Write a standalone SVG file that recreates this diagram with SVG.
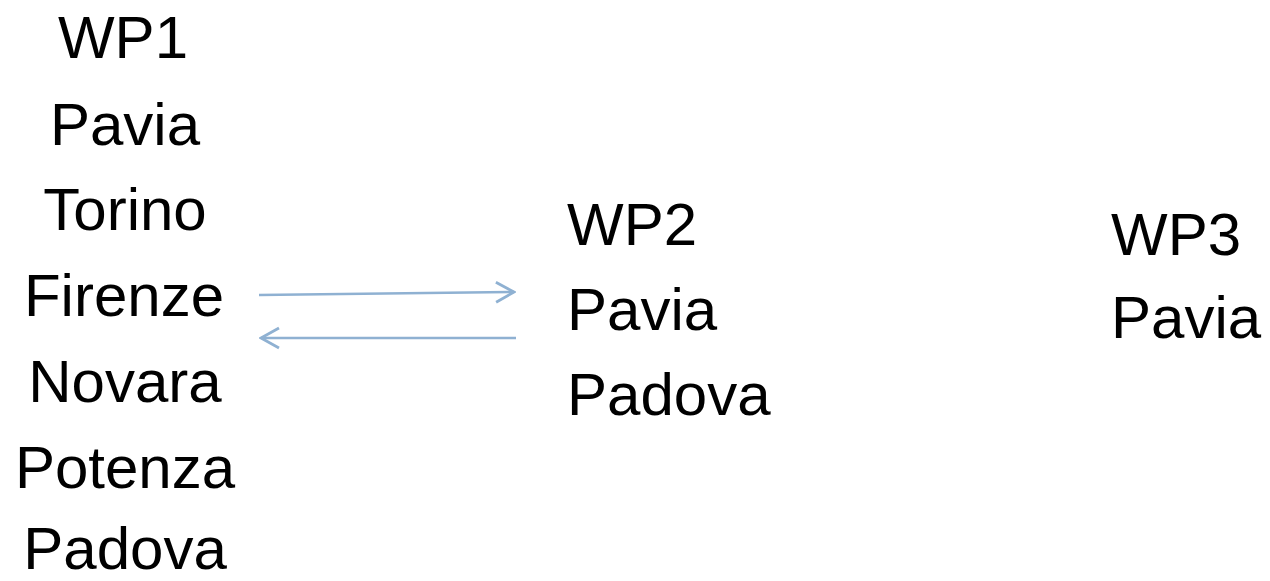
<svg xmlns="http://www.w3.org/2000/svg" width="1270" height="581" viewBox="0 0 1270 581">
<style>
text{font-family:"Liberation Sans",Arial,sans-serif;font-size:60px;fill:#000}
.c{text-anchor:middle}
.ln{stroke:#8FB1D2;stroke-width:2.6;fill:none}
</style>
<defs>
<marker id="ah" viewBox="0 0 22 24" refX="20" refY="12" markerWidth="22" markerHeight="24" markerUnits="userSpaceOnUse" orient="auto">
<path d="M2,2 L20,12 L2,22" fill="none" stroke="#8FB1D2" stroke-width="2.8"/>
</marker>
</defs>
<rect width="1270" height="581" fill="#fff"/>
<g id="wp1">
<text class="c" x="123" y="58">WP1</text>
<text class="c" x="125" y="145">Pavia</text>
<text class="c" x="125" y="230">Torino</text>
<text class="c" x="124" y="316">Firenze</text>
<text class="c" x="125" y="402">Novara</text>
<text class="c" x="125" y="488">Potenza</text>
<text class="c" x="125" y="569">Padova</text>
</g>
<g id="wp2">
<text x="567" y="245">WP2</text>
<text x="567" y="330">Pavia</text>
<text x="567" y="415">Padova</text>
</g>
<g id="wp3">
<text x="1111" y="255">WP3</text>
<text x="1111" y="338">Pavia</text>
</g>
<g id="connectors">
<line class="ln" x1="259" y1="295" x2="514" y2="292" marker-end="url(#ah)"/>
<line class="ln" x1="516" y1="338" x2="261" y2="338" marker-end="url(#ah)"/>
</g>
</svg>
